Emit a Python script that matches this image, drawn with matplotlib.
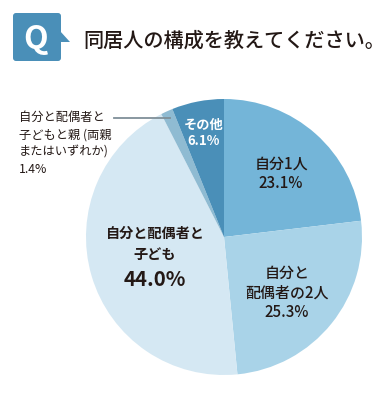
#!/usr/bin/python3

import matplotlib
matplotlib.use("Agg")
import matplotlib.pyplot as plt
from matplotlib.patches import FancyBboxPatch, Polygon

plt.rcParams['font.family'] = ['Noto Sans CJK JP', 'DejaVu Sans']

title = "同居人の構成を教えてください。"
values = [23.1, 25.3, 44.0, 1.4, 6.1]
colors = ["#74b5d8", "#a9d3e8", "#d5e8f3", "#8fbbd2", "#4a8fb8"]
W, H = 392, 393

fig = plt.figure(figsize=(W / 100, H / 100), dpi=100)

# pixel canvas for everything but the pie
bg = fig.add_axes([0, 0, 1, 1])
bg.set_xlim(0, W)
bg.set_ylim(H, 0)
bg.axis("off")

bg.add_patch(FancyBboxPatch((13, 13), 48, 48, boxstyle="round,pad=0,rounding_size=3",
                            fc="#4a8fb8", ec="none"))
bg.add_patch(Polygon([[60, 31], [70, 42], [60, 42]], fc="#4a8fb8", ec="none"))
bg.text(36, 39, "Q", color="white", fontsize=23, fontweight="bold", ha="center", va="center")
bg.text(83.5, 41, title, color="#231815", fontsize=14.5, fontweight="medium", ha="left", va="center")

# pie
cx, cy, r = 224, 237, 138
ax = fig.add_axes([(cx - r) / W, 1 - (cy + r) / H, 2 * r / W, 2 * r / H])
ax.pie(values, colors=colors, startangle=90, counterclock=False, radius=1,
       wedgeprops={"linewidth": 0})
ax.set_xlim(-1, 1)
ax.set_ylim(-1, 1)
ax.axis("off")

# labels over the pie
top = fig.add_axes([0, 0, 1, 1])
top.set_xlim(0, W)
top.set_ylim(H, 0)
top.axis("off")
dark = "#231815"
top.text(281, 174, "自分1人\n23.1%", color=dark, fontsize=10.8, fontweight="medium",
         ha="center", va="center", linespacing=1.17)
top.text(287, 293, "自分と\n配偶者の2人\n25.3%", color=dark, fontsize=10.8, fontweight="medium",
         ha="center", va="center", linespacing=1.17)
top.text(155, 244.5, "自分と配偶者と\n子ども", color=dark, fontsize=10.2, ha="center", va="center",
         fontweight="bold", linespacing=1.6)
top.text(155, 279, "44.0%", color=dark, fontsize=14.7, ha="center", va="center", fontweight="bold")
top.text(204, 133, "その他\n6.1%", color="white", fontsize=9.5, ha="center", va="center",
         fontweight="bold", linespacing=1.2)
top.text(19, 143.5, "自分と配偶者と\n子どもと親 (両親\nまたはいずれか)\n1.4%", color=dark, fontsize=8.8,
         ha="left", va="center", linespacing=1.43)
top.plot([114, 170], [118, 118], color="#7f8f98", lw=1.3)

fig.savefig("out.png", dpi=100)
